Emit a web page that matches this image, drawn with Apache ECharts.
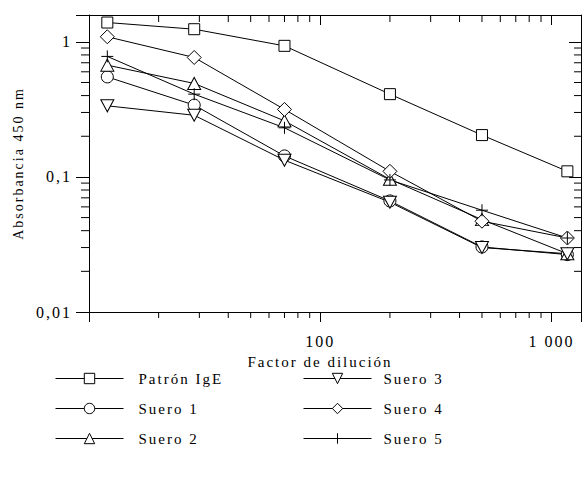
<!DOCTYPE html>
<html><head><meta charset="utf-8">
<script src="https://cdn.jsdelivr.net/npm/echarts@6/dist/echarts.min.js"></script>
<style>
html,body{margin:0;padding:0;background:#fff}
#c{width:583px;height:478px}
#c text{letter-spacing:2px}
</style>
</head><body><div id="c"></div><script>
// ---- data ----
const dilution = [12, 28.5, 70, 200, 500, 1170];
const patronIgE = [1.39, 1.24, 0.934, 0.41, 0.204, 0.110];
const suero1 = [0.55, 0.34, 0.143, 0.0664, 0.0303, 0.0266];
const suero2 = [0.672, 0.492, 0.26, 0.096, 0.0483, 0.027];
const suero3 = [0.336, 0.286, 0.133, 0.065, 0.0300, 0.027];
const suero4 = [1.09, 0.766, 0.316, 0.110, 0.047, 0.0353];
const suero5 = [0.78, 0.41, 0.231, 0.095, 0.0567, 0.0353];
const seriesNames = ['Patrón IgE', 'Suero 1', 'Suero 2', 'Suero 3', 'Suero 4', 'Suero 5'];
const minorXTicks = [20,30,40,50,60,70,80,90,200,300,400,500,600,700,800,900];
const minorYTicks = [0.02,0.03,0.04,0.05,0.06,0.07,0.08,0.09,0.2,0.3,0.4,0.5,0.6,0.7,0.8,0.9];
const xTickLabels = {100: '100', 1000: '1 000'};
const yTickLabels = {0.01: '0,01', 0.1: '0,1', 1: '1'};
const X_MIN = 10, X_MAX = 1340, Y_MIN = 0.01, Y_MAX = 1.58;

const FONT = 'Liberation Serif';
const chart = echarts.init(document.getElementById('c'), null, {renderer: 'svg'});

function pairs(ys) { return dilution.map((x, i) => [x, ys[i]]); }
function key(v) { return Number(Number(v).toPrecision(3)); }

const symbols = [
  {symbol: 'rect', size: 11, rotate: 0},
  {symbol: 'circle', size: 12, rotate: 0},
  {symbol: 'triangle', size: [13, 12], rotate: 0},
  {symbol: 'triangle', size: [13, 12], rotate: 180},
  {symbol: 'diamond', size: 14, rotate: 0},
  {symbol: 'path://M6,0V12M0,6H12', size: 12, rotate: 0}
];
const values = [patronIgE, suero1, suero2, suero3, suero4, suero5];

const lineSeries = seriesNames.map((name, i) => ({
  name: name,
  type: 'line',
  data: pairs(values[i]),
  symbol: symbols[i].symbol,
  symbolSize: symbols[i].size,
  symbolRotate: symbols[i].rotate,
  showAllSymbol: true,
  lineStyle: {color: '#000', width: 1},
  itemStyle: {color: '#fff', borderColor: '#000', borderWidth: 1},
  emphasis: {disabled: true},
  z: 3
}));

function tickSeries(data, dx, dy) {
  return {
    type: 'custom',
    silent: true,
    data: data,
    z: 1,
    renderItem: function (params, api) {
      const p = api.coord([api.value(0), api.value(1)]);
      return {
        type: 'line',
        shape: {x1: p[0], y1: p[1], x2: p[0] + dx, y2: p[1] + dy},
        style: {stroke: '#000', lineWidth: 1}
      };
    }
  };
}

const legendCommon = {
  top: 371, orient: 'vertical', padding: 0,
  itemWidth: 68, itemHeight: 13, itemGap: 15,
  lineStyle: {width: 1, color: '#000'},
  itemStyle: {color: '#fff', borderColor: '#000', borderWidth: 1},
  selectedMode: false
};

const option = {
  animation: false,
  backgroundColor: '#fff',
  grid: {left: 89, right: 2, top: 15, bottom: 166, outerBoundsMode: 'none'},
  xAxis: [{
    type: 'log', logBase: 10, min: X_MIN, max: X_MAX, position: 'bottom',
    name: 'Factor de dilución', nameLocation: 'middle', nameGap: 42,
    nameTextStyle: {fontFamily: FONT, fontSize: 15, color: '#000', padding: [0, 30, 0, 0]},
    axisLine: {lineStyle: {color: '#000', width: 1}},
    axisTick: {show: true, length: 10, lineStyle: {color: '#000'}},
    axisLabel: {fontFamily: FONT, fontSize: 16, color: '#000', margin: 21,
      formatter: v => xTickLabels[key(v)] || ''},
    splitLine: {show: false}
  }, {
    type: 'log', logBase: 10, min: X_MIN, max: X_MAX, position: 'top',
    axisLine: {lineStyle: {color: '#000', width: 1}},
    axisTick: {show: true, inside: true, length: 10, lineStyle: {color: '#000'}},
    axisLabel: {show: false},
    splitLine: {show: false}
  }],
  yAxis: [{
    type: 'log', logBase: 10, min: Y_MIN, max: Y_MAX, position: 'left',
    name: 'Absorbancia 450 nm', nameLocation: 'middle', nameGap: 64,
    nameTextStyle: {fontFamily: FONT, fontSize: 14, color: '#000'},
    axisLine: {lineStyle: {color: '#000', width: 1}},
    axisTick: {show: true, length: 13, lineStyle: {color: '#000'}},
    axisLabel: {fontFamily: FONT, fontSize: 16, color: '#000', margin: 17,
      formatter: v => yTickLabels[key(v)] || ''},
    splitLine: {show: false}
  }, {
    type: 'log', logBase: 10, min: Y_MIN, max: Y_MAX, position: 'right',
    axisLine: {lineStyle: {color: '#000', width: 1}},
    axisTick: {show: true, inside: true, length: 12, lineStyle: {color: '#000'}},
    axisLabel: {show: false},
    splitLine: {show: false}
  }],
  legend: [Object.assign({}, legendCommon, {
    left: 55,
    data: seriesNames.slice(0, 3),
    textStyle: {fontFamily: FONT, fontSize: 15, color: '#000', padding: [0, 0, 0, 10]}
  }), Object.assign({}, legendCommon, {
    left: 303,
    data: seriesNames.slice(3),
    textStyle: {fontFamily: FONT, fontSize: 15, color: '#000', padding: [0, 0, 0, 7]}
  })],
  series: lineSeries.concat([
    tickSeries(minorXTicks.map(x => [x, Y_MIN]), 0, 6),
    tickSeries(minorXTicks.map(x => [x, Y_MAX]), 0, 7),
    tickSeries(minorYTicks.map(y => [X_MIN, y]), -8, 0),
    tickSeries(minorYTicks.map(y => [X_MAX, y]), -7, 0)
  ])
};
chart.setOption(option);
</script></body></html>
